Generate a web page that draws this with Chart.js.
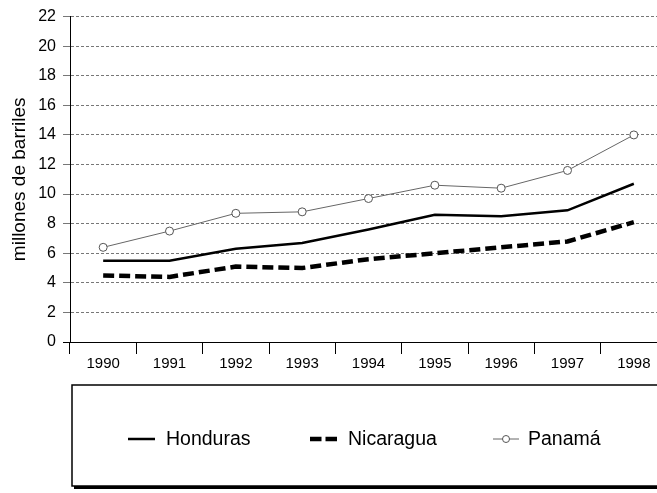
<!DOCTYPE html>
<html>
<head>
<meta charset="utf-8">
<script src="https://cdn.jsdelivr.net/npm/chart.js@4"></script>
<style>
  html, body { margin: 0; padding: 0; background: #fff; overflow: hidden; }
  #wrap { width: 657px; height: 493px; overflow: hidden; }
</style>
</head>
<body>
<div id="wrap"><canvas id="chart" width="672" height="493"></canvas></div>
<script>
const years = ['1990', '1991', '1992', '1993', '1994', '1995', '1996', '1997', '1998'];
const honduras = [5.5, 5.5, 6.3, 6.7, 7.6, 8.6, 8.5, 8.9, 10.7];
const nicaragua = [4.5, 4.4, 5.1, 5.0, 5.6, 6.0, 6.4, 6.8, 8.1];
const panama = [6.4, 7.5, 8.7, 8.8, 9.7, 10.6, 10.4, 11.6, 14.0];
const yTicks = [0, 2, 4, 6, 8, 10, 12, 14, 16, 18, 20, 22];

const FONT = '"Liberation Sans", Arial, sans-serif';

// legend drawn inside a boxed frame below the plot (runs past the right edge like the original)
const boxLegend = {
  id: 'boxLegend',
  afterDraw(chart) {
    const ctx = chart.ctx;
    const top = 385, left = 72, bottom = 486, right = 690;
    ctx.save();
    ctx.fillStyle = '#000';
    ctx.fillRect(left + 2, bottom, right - left, 3);
    ctx.strokeStyle = '#000';
    ctx.lineWidth = 1.5;
    ctx.strokeRect(left, top, right - left, bottom - top);

    const y = 439;
    const items = [
      { ds: 0, x0: 128, x1: 155, tx: 166 },
      { ds: 1, x0: 310, x1: 337, tx: 348 },
      { ds: 2, x0: 493, x1: 519, tx: 528 }
    ];
    ctx.font = '19.5px ' + FONT;
    ctx.textBaseline = 'middle';
    items.forEach(it => {
      const d = chart.data.datasets[it.ds];
      ctx.strokeStyle = d.borderColor;
      ctx.lineWidth = d.borderWidth;
      ctx.setLineDash(it.ds === 1 ? [11.5, 4] : []);
      ctx.beginPath();
      ctx.moveTo(it.x0, y);
      ctx.lineTo(it.x1, y);
      ctx.stroke();
      ctx.setLineDash([]);
      if (d.pointRadius > 0) {
        ctx.fillStyle = '#fff';
        ctx.lineWidth = 1;
        ctx.strokeStyle = d.pointBorderColor;
        ctx.beginPath();
        ctx.arc((it.x0 + it.x1) / 2, y, 3.5, 0, Math.PI * 2);
        ctx.fill();
        ctx.stroke();
      }
      ctx.fillStyle = '#000';
      ctx.fillText(d.label, it.tx, y + 1);
    });
    ctx.restore();
  }
};

new Chart(document.getElementById('chart').getContext('2d'), {
  type: 'line',
  data: {
    labels: years,
    datasets: [
      {
        label: 'Honduras',
        data: honduras,
        borderColor: '#000',
        borderWidth: 2.5,
        pointRadius: 0,
        tension: 0
      },
      {
        label: 'Nicaragua',
        data: nicaragua,
        borderColor: '#000',
        borderWidth: 4.5,
        borderDash: [11, 5],
        pointRadius: 0,
        tension: 0
      },
      {
        label: 'Panamá',
        data: panama,
        borderColor: '#666',
        borderWidth: 1,
        pointRadius: 4,
        pointBackgroundColor: '#fff',
        pointBorderColor: '#555',
        pointBorderWidth: 1,
        tension: 0
      }
    ]
  },
  options: {
    responsive: false,
    animation: false,
    layout: { padding: { top: 15, right: 4, bottom: 116, left: 0 } },
    plugins: {
      legend: { display: false },
      tooltip: { enabled: false }
    },
    scales: {
      x: {
        offset: true,
        grid: {
          offset: true,
          drawOnChartArea: false,
          color: '#000',
          tickLength: 12
        },
        border: { color: '#000', width: 1 },
        ticks: {
          color: '#000',
          font: { family: FONT, size: 15 },
          maxRotation: 0,
          autoSkip: false,
          padding: 1
        },
        afterFit(scale) { scale.height = 35; }
      },
      y: {
        min: 0,
        max: 22,
        afterBuildTicks(scale) { scale.ticks = yTicks.map(v => ({ value: v })); },
        grid: {
          color: ctx => ctx.tick && ctx.tick.value === 0 ? '#000' : '#777',
          tickLength: 7
        },
        border: { color: '#000', width: 1, dash: [3, 2] },
        ticks: {
          color: '#000',
          font: { family: FONT, size: 16 },
          padding: 7
        },
        title: {
          display: true,
          text: 'millones de barriles',
          color: '#000',
          font: { family: FONT, size: 19 },
          padding: { top: 8, bottom: 0 }
        },
        afterFit(scale) { scale.width = 70; }
      }
    }
  },
  plugins: [boxLegend]
});
</script>
</body>
</html>
